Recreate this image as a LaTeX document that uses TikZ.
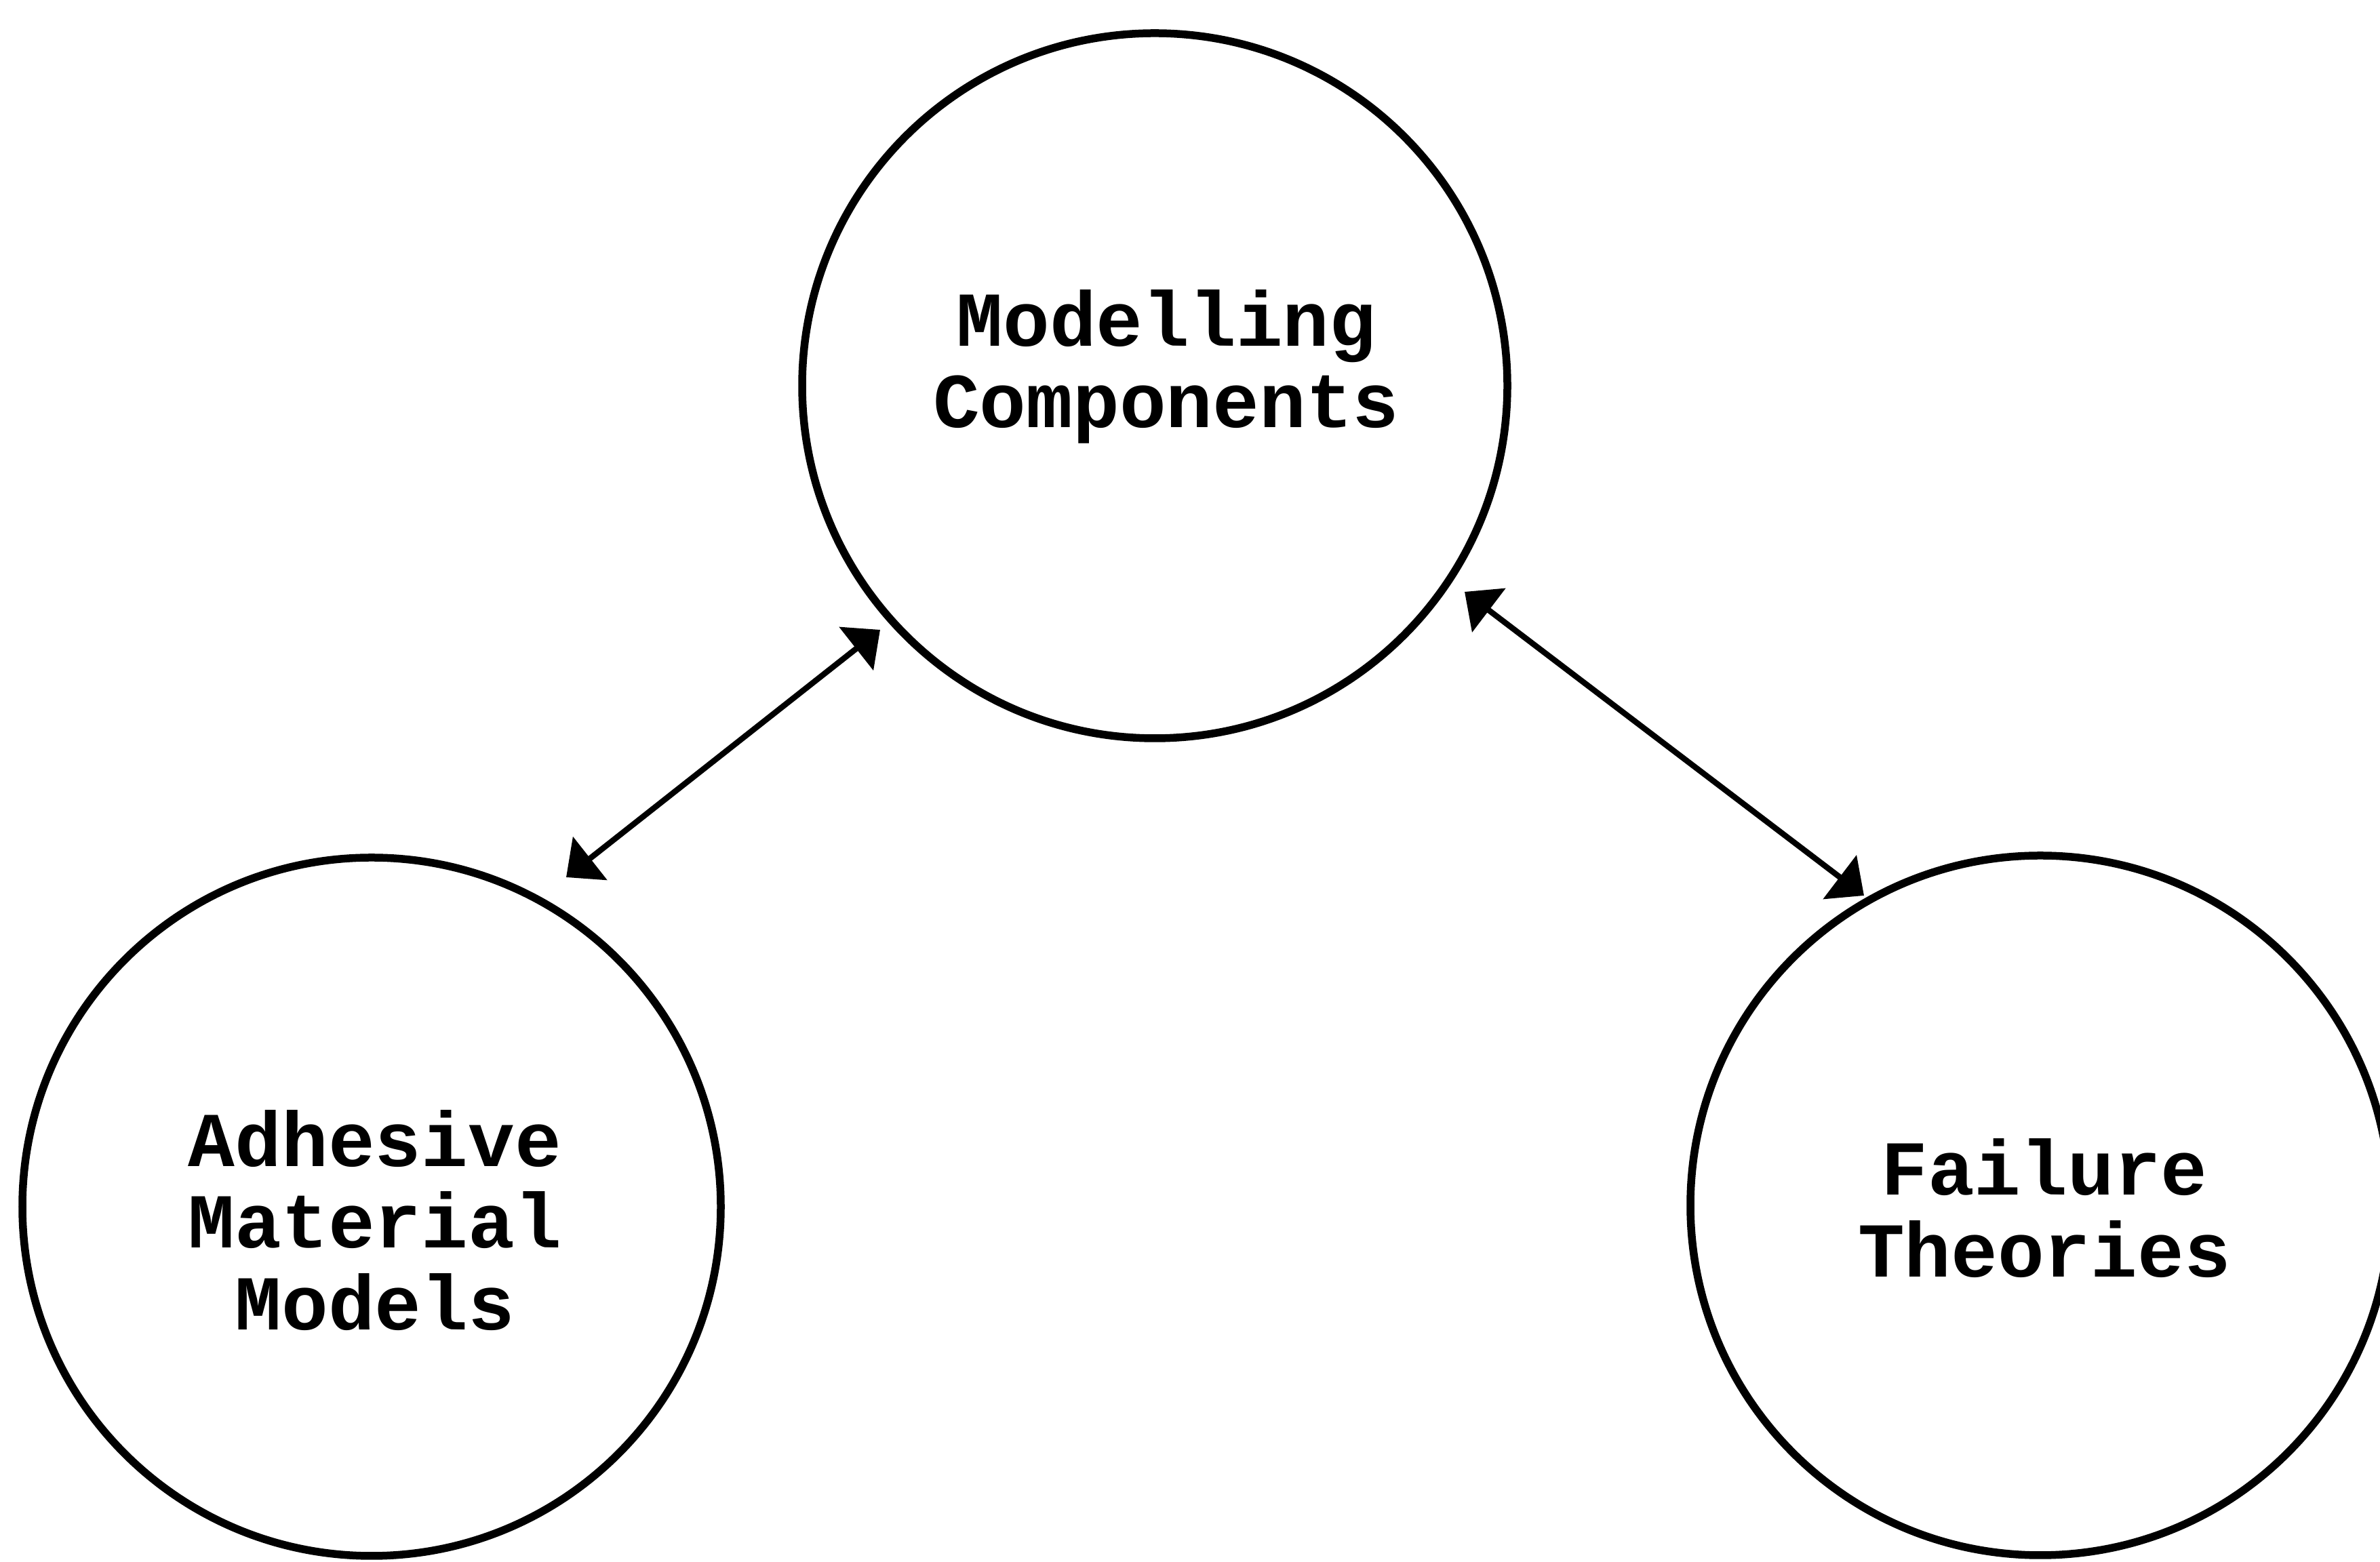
\documentclass[tikz,border=0pt]{standalone}
\usepackage{fontspec}
\newfontfamily\labelfont{Liberation Mono}[BoldFont={Liberation Mono Bold}]
\usetikzlibrary{arrows.meta,calc}

\tikzset{
  topic/.style={circle, draw, line width=0.115cm, minimum size=10.4cm,
                inner sep=0pt, outer sep=0pt},
  caption/.style={align=center, font=\labelfont\bfseries\fontsize{32.6}{34.2}\selectfont},
  link/.style={line width=0.085cm,
               {Triangle[length=0.45cm,width=0.8cm]}-{Triangle[length=0.45cm,width=0.8cm]}}
}

\begin{document}
\begin{tikzpicture}
  \useasboundingbox (0,0) rectangle (35.10,23.04);

  % the three topic circles
  \node[topic] (model)   at (17.03,17.35) {};
  \node[topic, minimum size=10.3cm] (adhes)   at (5.48,5.24)   {};
  \node[topic, minimum size=10.32cm] (failure) at (30.09,5.26)  {};

  % their captions
  \node[caption] (modeltxt)   at (17.20,17.63) {Modelling\\Components};
  \node[caption] (adhestxt)   at (5.53,5.04)   {Adhesive\\Material\\Models};
  \node[caption] (failuretxt) at (30.15,5.22)  {Failure\\Theories};

  % ends of the two double-headed links, just off the circles
  \coordinate (adhesend)   at ($(adhes)+(2.87,4.86)$);
  \coordinate (modelleft)  at ($(model)+(-4.05,-3.60)$);
  \coordinate (modelright) at ($(model)+(4.57,-3.04)$);
  \coordinate (failend)    at ($(failure)+(-2.60,4.57)$);

  \draw[link] (adhesend) -- (modelleft);
  \draw[link] (modelright) -- (failend);
\end{tikzpicture}
\end{document}
